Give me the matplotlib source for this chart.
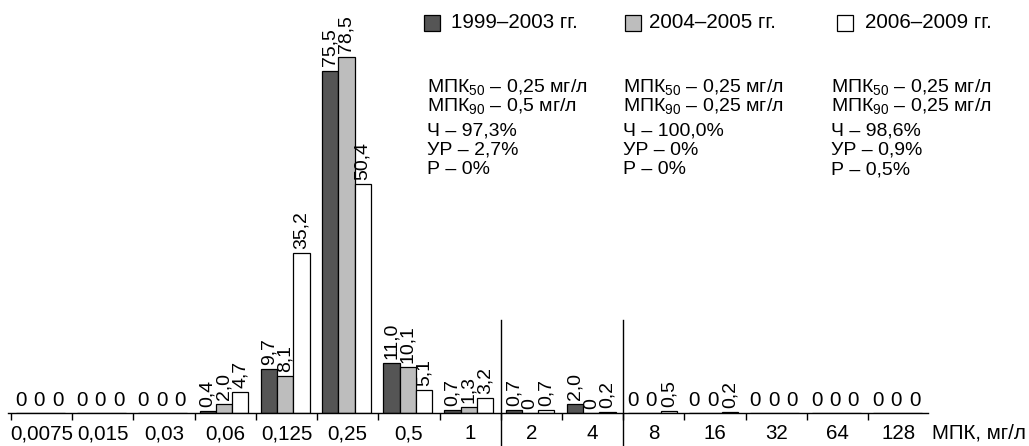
# Distribution of MIC values by period: grouped bars with value labels and text notes.
import numpy as np
import matplotlib.pyplot as plt

plt.rcParams['font.family'] = ['Liberation Sans', 'DejaVu Sans']
plt.rcParams['mathtext.fontset'] = 'custom'
plt.rcParams['mathtext.rm'] = 'Liberation Sans'
plt.rcParams['mathtext.it'] = 'Liberation Sans'

categories = ["0,0075", "0,015", "0,03", "0,06", "0,125", "0,25", "0,5", "1",
              "2", "4", "8", "16", "32", "64", "128"]
periods = ["1999–2003 гг.", "2004–2005 гг.", "2006–2009 гг."]
v_1999 = [0, 0, 0, 0.4, 9.7, 75.5, 11.0, 0.7, 0.7, 2.0, 0, 0, 0, 0, 0]
v_2004 = [0, 0, 0, 2.0, 8.1, 78.5, 10.1, 1.3, 0, 0, 0, 0, 0, 0, 0]
v_2006 = [0, 0, 0, 4.7, 35.2, 50.4, 5.1, 3.2, 0.7, 0.2, 0.5, 0.2, 0, 0, 0]
notes = [
    ["МПК$_{50}$ – 0,25 мг/л", "МПК$_{90}$ – 0,5 мг/л", "Ч – 97,3%", "УР – 2,7%", "Р – 0%"],
    ["МПК$_{50}$ – 0,25 мг/л", "МПК$_{90}$ – 0,25 мг/л", "Ч – 100,0%", "УР – 0%", "Р – 0%"],
    ["МПК$_{50}$ – 0,25 мг/л", "МПК$_{90}$ – 0,25 мг/л", "Ч – 98,6%", "УР – 0,9%", "Р – 0,5%"],
]

colors = ["#555555", "#bdbdbd", "white"]
W, H = 1029, 446
FS = 14.8
FS_VAL = 14
FS_NOTE = 14
ZERO_ROTATED = ["2", "4"]      # categories where zero labels are turned like the others

fig = plt.figure(figsize=(W / 100, H / 100), dpi=100)
ax = fig.add_axes([8 / W, 33 / H, 920 / W, 413 / H])

x = np.arange(len(categories))
bw = 0.266
for k, (vals, c) in enumerate(zip([v_1999, v_2004, v_2006], colors)):
    xs = x + 0.08 + bw / 2 + k * bw
    zx = x + 0.16 + k * 0.30          # upright zeros sit a little wider apart
    ax.bar(xs, vals, width=bw, color=c, edgecolor="black", linewidth=0.9, zorder=2)
    for xi, zi, v, cat in zip(xs, zx, vals, categories):
        lab = f"{v:.1f}".replace(".", ",") if v else "0"
        if v == 0 and cat not in ZERO_ROTATED:
            ax.annotate(lab, (zi, 0), xytext=(0, 5), textcoords="offset points",
                        ha="center", va="baseline", fontsize=FS)
        else:
            ax.annotate(lab, (xi, v), xytext=(0, 3), textcoords="offset points",
                        ha="center", va="bottom", rotation=90, fontsize=FS_VAL)

ax.set_xlim(-0.05, 14.98)
ax.set_ylim(0, 413 / 4.535)
ax.set_xticks(x)
ax.set_xticklabels([])
ax.set_xticks(x + 0.5, minor=True)
ax.set_xticklabels(categories, minor=True, fontsize=FS)
ax.tick_params(axis="x", which="major", length=5, width=1, direction="out")
ax.tick_params(axis="x", which="minor", length=0, pad=8)
ax.set_yticks([])
for s in ("top", "right", "left"):
    ax.spines[s].set_visible(False)
ax.spines["bottom"].set_linewidth(1)

for b in (8, 10):
    ax.axvline(b, ymin=-33 / 413, ymax=93 / 413, color="black", lw=1, clip_on=False)

fig.text(932 / W, 1 - 433 / H, "МПК, мг/л", fontsize=FS, va="center", ha="left")

# legend squares and labels
for sx, tx, c, p in zip([424, 625, 837], [451, 649, 865], colors, periods):
    fig.patches.append(plt.Rectangle((sx / W, 1 - 31 / H), 16 / W, 16 / H,
                                     facecolor=c, edgecolor="black", lw=0.9,
                                     transform=fig.transFigure))
    fig.text(tx / W, 1 - 23 / H, p, fontsize=FS, va="center", ha="left")

for cx, lines in zip([427, 623, 831], notes):
    for ly, t in zip([87, 106, 131.5, 150.5, 170], lines):
        fig.text(cx / W, 1 - ly / H, t, fontsize=FS_NOTE, va="center", ha="left")

fig.savefig("out.png", dpi=100)
